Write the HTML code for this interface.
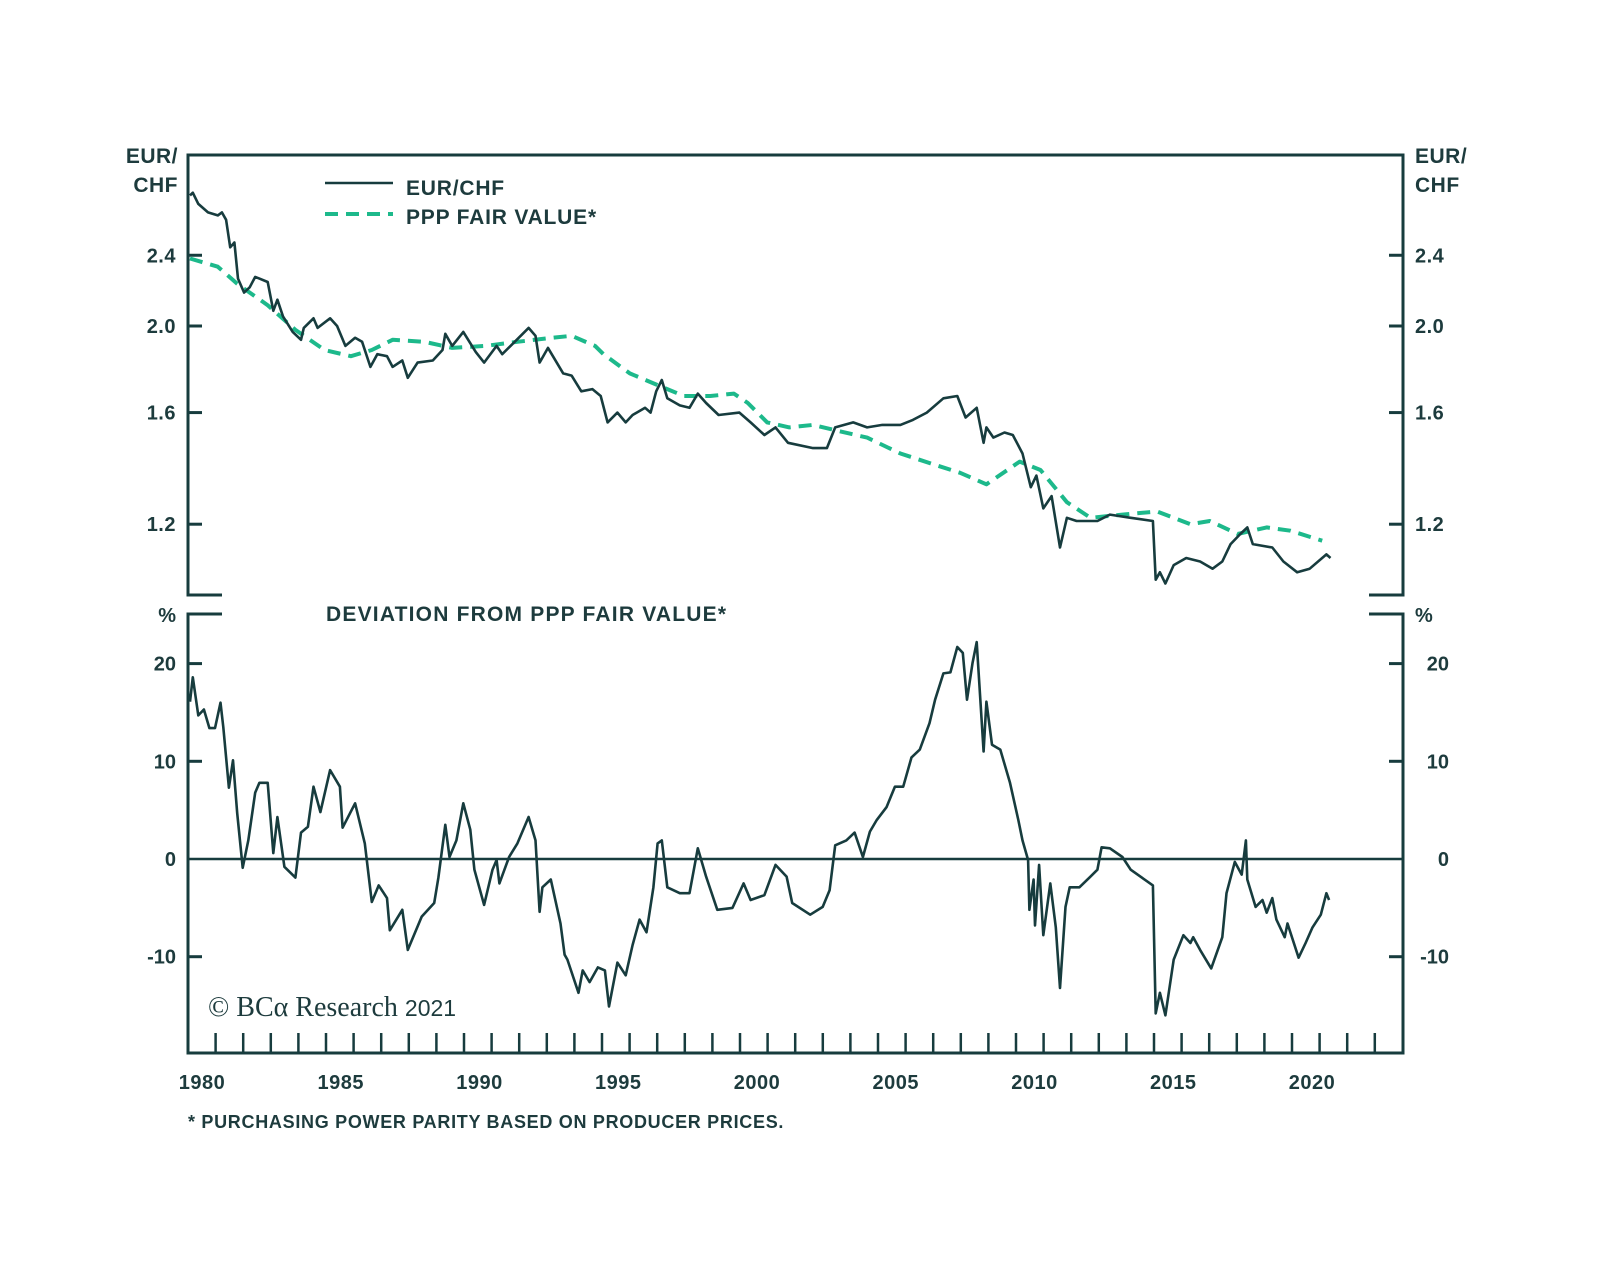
<!DOCTYPE html>
<html><head><meta charset="utf-8"><style>
html,body{margin:0;padding:0;background:#fff;}
svg{display:block;}
text{font-family:"Liberation Sans",Arial,sans-serif;fill:#1d3b3d;font-weight:bold;}
</style></head><body>
<svg id="chart" width="1600" height="1263" viewBox="0 0 1600 1263" xmlns="http://www.w3.org/2000/svg">
<g id="frame" stroke="#173c3e" stroke-width="3" fill="none">
  <path d="M222,595 H188 V155 H1403 V595 H1369"/>
  <path d="M222,614 H188 V1053 H1403 V614 H1369"/>
  <line x1="188" y1="859" x2="1403" y2="859" stroke-width="2.5"/>
</g>
<g id="axes"></g>
<g id="series"></g>
<g>
  <line x1="325" y1="183" x2="393" y2="183" stroke="#173c3e" stroke-width="2.5"/>
  <text x="406" y="195" font-size="21" letter-spacing="0.8">EUR/CHF</text>
  <line x1="325" y1="214" x2="393" y2="214" stroke="#1db98b" stroke-width="4" stroke-dasharray="13 8"/>
  <text x="406" y="224" font-size="21" letter-spacing="0.8">PPP FAIR VALUE*</text>
</g>
<text x="326" y="621" font-size="21" letter-spacing="1.2">DEVIATION FROM PPP FAIR VALUE*</text>
<text x="178" y="163" font-size="21" text-anchor="end" letter-spacing="0.5">EUR/</text>
<text x="178" y="192" font-size="21" text-anchor="end" letter-spacing="0.5">CHF</text>
<text x="1415" y="163" font-size="21" letter-spacing="0.5">EUR/</text>
<text x="1415" y="192" font-size="21" letter-spacing="0.5">CHF</text>
<text x="176" y="622" font-size="20" text-anchor="end">%</text>
<text x="1415" y="622" font-size="20">%</text>
<text x="208" y="1016" font-size="28" style="font-family:'Liberation Serif',serif;font-weight:normal">© BCα Research <tspan style="font-family:'Liberation Sans',sans-serif;font-size:23px;font-weight:normal">2021</tspan></text>
<text x="188" y="1128" font-size="18" letter-spacing="0.7">* PURCHASING POWER PARITY BASED ON PRODUCER PRICES.</text>
</svg>
<script>
const topTicks = [2.4, 2.0, 1.6, 1.2];
const bottomTicks = [20, 10, 0, -10];
const yearLabels = [1980, 1985, 1990, 1995, 2000, 2005, 2010, 2015, 2020];

const fxYears = [1980.0,1980.1,1980.3,1980.65,1981.0,1981.15,1981.3,1981.45,1981.6,1981.73,1981.95,1982.15,1982.35,1982.5,1982.8,1983.0,1983.15,1983.35,1983.7,1984.0,1984.1,1984.45,1984.6,1985.05,1985.3,1985.6,1985.95,1986.2,1986.5,1986.75,1987.1,1987.3,1987.65,1987.85,1988.2,1988.75,1989.1,1989.2,1989.45,1989.85,1990.3,1990.6,1991.05,1991.25,1991.7,1992.2,1992.45,1992.6,1992.9,1993.45,1993.75,1994.1,1994.5,1994.8,1995.05,1995.4,1995.7,1995.95,1996.4,1996.6,1996.8,1997.0,1997.2,1997.65,1998.0,1998.3,1998.6,1999.05,1999.8,2000.2,2000.7,2001.1,2001.55,2002.45,2002.95,2003.25,2003.9,2004.4,2004.95,2005.6,2006.05,2006.55,2007.15,2007.65,2007.95,2008.35,2008.6,2008.7,2008.95,2009.35,2009.65,2010.0,2010.3,2010.5,2010.75,2011.05,2011.35,2011.6,2011.95,2012.7,2013.15,2013.9,2014.7,2014.8,2014.95,2015.15,2015.45,2015.9,2016.4,2016.85,2017.2,2017.5,2017.85,2018.1,2018.3,2019.0,2019.4,2019.9,2020.35,2020.95,2021.1];
const fxValues = [2.80,2.82,2.74,2.68,2.66,2.68,2.63,2.45,2.48,2.26,2.18,2.21,2.27,2.26,2.24,2.08,2.14,2.05,1.97,1.93,1.99,2.04,1.99,2.04,2.00,1.90,1.94,1.92,1.80,1.86,1.85,1.80,1.83,1.75,1.82,1.83,1.88,1.96,1.90,1.97,1.87,1.82,1.90,1.86,1.92,1.99,1.95,1.82,1.89,1.77,1.76,1.69,1.70,1.67,1.56,1.60,1.56,1.59,1.62,1.60,1.69,1.74,1.66,1.63,1.62,1.68,1.64,1.59,1.60,1.56,1.51,1.54,1.48,1.46,1.46,1.54,1.56,1.54,1.55,1.55,1.57,1.60,1.66,1.67,1.58,1.62,1.48,1.54,1.50,1.52,1.51,1.44,1.32,1.36,1.25,1.29,1.13,1.22,1.21,1.21,1.23,1.22,1.21,1.04,1.06,1.03,1.08,1.10,1.09,1.07,1.09,1.14,1.17,1.19,1.14,1.13,1.09,1.06,1.07,1.11,1.10];

const pppYears = [1980.0,1981.0,1981.7,1982.8,1983.8,1984.85,1985.8,1986.55,1987.3,1988.45,1989.45,1990.65,1991.8,1993.05,1993.75,1994.6,1994.9,1995.85,1996.8,1997.8,1998.75,1999.6,2000.1,2000.8,2001.6,2002.45,2003.2,2004.4,2005.6,2006.8,2007.75,2008.7,2009.9,2010.65,2011.6,2012.45,2013.6,2014.85,2016.05,2016.75,2017.75,2018.8,2019.65,2020.8];
const pppValues = [2.38,2.33,2.23,2.11,1.98,1.88,1.85,1.88,1.93,1.92,1.89,1.90,1.92,1.94,1.95,1.90,1.86,1.77,1.72,1.67,1.67,1.68,1.64,1.56,1.54,1.55,1.53,1.50,1.44,1.40,1.37,1.33,1.41,1.38,1.27,1.22,1.23,1.24,1.20,1.21,1.17,1.19,1.18,1.15];

const devYears = [1980.0,1980.1,1980.3,1980.5,1980.7,1980.9,1981.1,1981.2,1981.4,1981.55,1981.7,1981.9,1982.1,1982.35,1982.5,1982.8,1983.0,1983.15,1983.4,1983.8,1984.0,1984.25,1984.45,1984.7,1985.05,1985.4,1985.5,1985.95,1986.3,1986.55,1986.8,1987.1,1987.2,1987.65,1987.85,1988.35,1988.8,1988.95,1989.2,1989.35,1989.6,1989.85,1990.1,1990.25,1990.6,1990.9,1991.05,1991.15,1991.5,1991.8,1992.2,1992.45,1992.6,1992.7,1993.0,1993.35,1993.5,1993.6,1994.0,1994.15,1994.4,1994.7,1994.95,1995.1,1995.4,1995.7,1995.95,1996.2,1996.45,1996.7,1996.85,1997.0,1997.2,1997.65,1998.0,1998.3,1998.6,1999.0,1999.55,1999.95,2000.2,2000.7,2001.1,2001.5,2001.7,2002.35,2002.8,2003.05,2003.25,2003.65,2003.95,2004.25,2004.5,2004.75,2005.1,2005.4,2005.7,2006.0,2006.3,2006.65,2006.85,2007.15,2007.4,2007.65,2007.85,2008.0,2008.2,2008.35,2008.6,2008.7,2008.9,2009.2,2009.55,2009.85,2010.0,2010.2,2010.25,2010.4,2010.45,2010.6,2010.75,2011.0,2011.2,2011.35,2011.55,2011.7,2012.05,2012.45,2012.7,2012.85,2013.15,2013.6,2013.9,2014.25,2014.7,2014.8,2014.95,2015.15,2015.45,2015.8,2016.05,2016.15,2016.4,2016.8,2017.2,2017.35,2017.65,2017.9,2018.05,2018.1,2018.4,2018.65,2018.8,2019.0,2019.15,2019.45,2019.55,2019.95,2020.2,2020.45,2020.75,2020.95,2021.05];
const devValues = [16.1,18.6,14.7,15.3,13.4,13.4,16.0,13.5,7.3,10.1,4.7,-0.9,1.9,6.8,7.8,7.8,0.6,4.3,-0.8,-1.9,2.7,3.3,7.4,4.8,9.1,7.4,3.2,5.7,1.6,-4.4,-2.7,-4.0,-7.3,-5.2,-9.3,-5.9,-4.5,-1.9,3.5,0.2,1.9,5.7,3.0,-1.1,-4.7,-1.1,-0.1,-2.5,0.2,1.6,4.3,1.9,-5.4,-2.9,-2.1,-6.6,-9.8,-10.3,-13.7,-11.4,-12.6,-11.1,-11.4,-15.1,-10.6,-11.9,-8.8,-6.2,-7.5,-2.9,1.6,1.9,-2.9,-3.5,-3.5,1.1,-1.8,-5.2,-5.0,-2.5,-4.2,-3.7,-0.6,-1.8,-4.5,-5.7,-4.9,-3.2,1.4,1.9,2.7,0.2,2.8,4.0,5.3,7.4,7.4,10.4,11.2,13.9,16.3,19.0,19.1,21.7,21.1,16.3,20.1,22.2,11.0,16.1,11.7,11.2,7.8,4.0,1.9,-0.1,-5.2,-2.1,-6.8,-0.6,-7.8,-2.5,-7.0,-13.2,-4.9,-2.9,-2.9,-1.8,-1.1,1.2,1.1,0.2,-1.1,-1.8,-2.7,-15.8,-13.7,-16.0,-10.3,-7.8,-8.6,-8.0,-9.3,-11.2,-8.0,-3.5,-0.3,-1.6,1.9,-2.1,-4.9,-4.2,-5.5,-4.0,-6.2,-8.0,-6.6,-10.1,-8.6,-7.0,-5.7,-3.5,-4.2];

const NS = "http://www.w3.org/2000/svg";
function X(yr){ return 190 + 27.75*(yr-1980); }
function YTop(v){ return 326 - 388*(Math.log(v) - Math.log(2)); }
function YBot(v){ return 859 - 9.77*v; }
function mk(tag, attrs, parent){
  const e = document.createElementNS(NS, tag);
  for (const k in attrs) e.setAttribute(k, attrs[k]);
  parent.appendChild(e);
  return e;
}
const axes = document.getElementById('axes');
const series = document.getElementById('series');

topTicks.forEach(v => {
  const y = YTop(v);
  const l1 = mk('line', {x1:188, y1:y, x2:202, y2:y, stroke:'#173c3e', 'stroke-width':3}, axes);
  
  
  const l2 = mk('line', {x1:1389, y1:y, x2:1403, y2:y, stroke:'#173c3e', 'stroke-width':3}, axes);
  
  
  const t1 = mk('text', {x:176, y:y+7, 'font-size':20, 'text-anchor':'end', 'letter-spacing':0.5}, axes);
  t1.textContent = v.toFixed(1);
  
  
  const t2 = mk('text', {x:1415, y:y+7, 'font-size':20, 'letter-spacing':0.5}, axes);
  t2.textContent = v.toFixed(1);
  
  
});
bottomTicks.forEach(v => {
  const y = YBot(v);
  if (v !== 0) {
    const l1 = mk('line', {x1:188, y1:y, x2:202, y2:y, stroke:'#173c3e', 'stroke-width':3}, axes);
    
    
    const l2 = mk('line', {x1:1389, y1:y, x2:1403, y2:y, stroke:'#173c3e', 'stroke-width':3}, axes);
    
    
  }
  const t1 = mk('text', {x:176, y:y+7, 'font-size':20, 'text-anchor':'end'}, axes);
  t1.textContent = String(v);
  
  
  const t2 = mk('text', {x:1449, y:y+7, 'font-size':20, 'text-anchor':'end'}, axes);
  t2.textContent = String(v);
  
  
});
for (let k = 1; k < 44; k++) {
  const x = 188 + 27.6*k;
  const l = mk('line', {x1:x, y1:1053, x2:x, y2:1033, stroke:'#173c3e', 'stroke-width':2.5}, axes);
  
  
}
yearLabels.forEach(yr => {
  const t = mk('text', {x:Math.max(X(yr)+12, 198), y:1089, 'font-size':20, 'text-anchor':'middle', 'letter-spacing':0.5}, axes);
  t.textContent = String(yr);
  
  
});

function pathFrom(xs, vs, yf){
  return xs.map((yr,i) => (i ? 'L' : 'M') + X(yr).toFixed(1) + ',' + yf(vs[i]).toFixed(1)).join(' ');
}
const ppp = mk('path', {d:pathFrom(pppYears, pppValues, YTop), fill:'none', stroke:'#1db98b', 'stroke-width':4, 'stroke-dasharray':'13 8', 'stroke-linejoin':'round'}, series);


const fx = mk('path', {d:pathFrom(fxYears, fxValues, YTop), fill:'none', stroke:'#173c3e', 'stroke-width':2.6, 'stroke-linejoin':'round'}, series);


const dev = mk('path', {d:pathFrom(devYears, devValues, YBot), fill:'none', stroke:'#173c3e', 'stroke-width':2.6, 'stroke-linejoin':'round'}, series);


</script>
</body></html>
